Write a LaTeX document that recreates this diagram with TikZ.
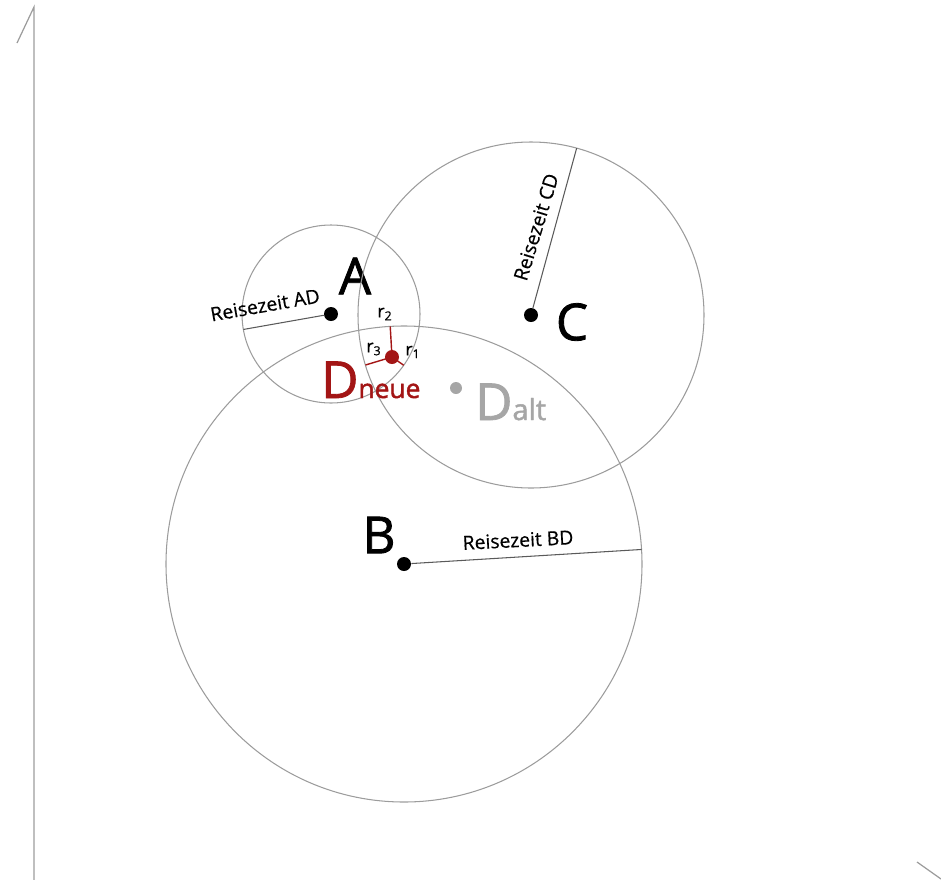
\documentclass[tikz,border=0pt]{standalone}
\usepackage{fontspec}
\setmainfont{Open Sans}
\newfontfamily\heavyfont{Open Sans}[FakeBold=1.6]
\newfontfamily\midfont{Open Sans}[FakeBold=0.5]
\usepackage{tikz}
\usetikzlibrary{calc}
\definecolor{circgray}{HTML}{9C9C9C}
\definecolor{radgray}{HTML}{5A5A5A}
\definecolor{neured}{HTML}{A31515}
\definecolor{altgray}{HTML}{A6A6A6}

\begin{document}
\begin{tikzpicture}[
  x=0.02cm, y=-0.02cm,
  circ/.style={draw=circgray, line width=0.6pt},
  rad/.style={draw=radgray, line width=0.6pt},
  rline/.style={draw=neured, line width=0.8pt},
  axis/.style={draw=circgray, line width=0.7pt},
  dot/.style={circle, fill=black, inner sep=0pt, minimum size=0.28cm},
  big/.style={font=\heavyfont\fontsize{29}{30}\selectfont, inner sep=0pt},
  lbl/.style={font=\midfont\fontsize{11}{12}\selectfont, inner sep=0pt},
  rlbl/.style={font=\midfont\fontsize{10}{11}\selectfont, inner sep=0pt}
]
\useasboundingbox (0,0) rectangle (941,880);

% axes
\coordinate (yaxtop) at (34,7);
\coordinate (yaxbot) at (34,880);
\coordinate (ybarb) at (17,43);
\coordinate (xbarb1) at (917,862);
\coordinate (xbarb2) at (941,879);
\draw[axis] (yaxbot) -- (yaxtop) -- (ybarb);
\draw[axis] (xbarb1) -- (xbarb2);

% stations
\node[dot] (Ad) at (331,314) {};
\node[dot] (Bd) at (404,564) {};
\node[dot] (Cd) at (531,315) {};
\node[big] (Al) at (355,276) {A};
\node[big] (Bl) at (379,535) {B};
\node[big] (Cl) at (572,322) {C};

\draw[circ] (Ad) circle[radius=89];
\draw[circ] (Bd) circle[radius=238];
\draw[circ] (Cd) circle[radius=173];

\coordinate (ADend) at ($(Ad)+(170:89)$);
\coordinate (BDend) at ($(Bd)+(356.5:238)$);
\coordinate (CDend) at ($(Cd)+(285.3:173)$);
\draw[rad] (Ad) -- (ADend);
\draw[rad] (Bd) -- (BDend);
\draw[rad] (Cd) -- (CDend);
\node[lbl, rotate=10] (labAD) at (265,305) {Reisezeit AD};
\node[lbl, rotate=3] (labBD) at (518,540) {Reisezeit BD};
\node[lbl, rotate=73] (labCD) at (536,227) {Reisezeit CD};

% old and new position
\node[dot, fill=altgray, minimum size=0.24cm] (Dalt) at (456,388) {};
\node[anchor=base west, inner sep=0pt, text=altgray] (Daltl) at (475,420)
  {{\heavyfont\fontsize{29}{30}\selectfont D}{\heavyfont\fontsize{16.5}{18}\selectfont alt}};
\node[dot, fill=neured] (Dn) at (392,357) {};
\node[anchor=base west, inner sep=0pt, text=neured] (Dnl) at (321,398)
  {{\heavyfont\fontsize{29}{30}\selectfont D}{\heavyfont\fontsize{15}{18}\selectfont neue}};

\coordinate (r1end) at ($(Ad)!1.78cm!(Dn)$);
\coordinate (r2end) at ($(Bd)!4.76cm!(Dn)$);
\coordinate (r3end) at ($(Cd)!3.46cm!(Dn)$);
\draw[rline] (Dn.center) -- (r1end);
\draw[rline] (Dn.center) -- (r2end);
\draw[rline] (Dn.center) -- (r3end);
\node[rlbl] (r1l) at (413,352) {r\textsubscript{1}};
\node[rlbl] (r2l) at (385,314) {r\textsubscript{2}};
\node[rlbl] (r3l) at (374,349) {r\textsubscript{3}};
\end{tikzpicture}
\end{document}
